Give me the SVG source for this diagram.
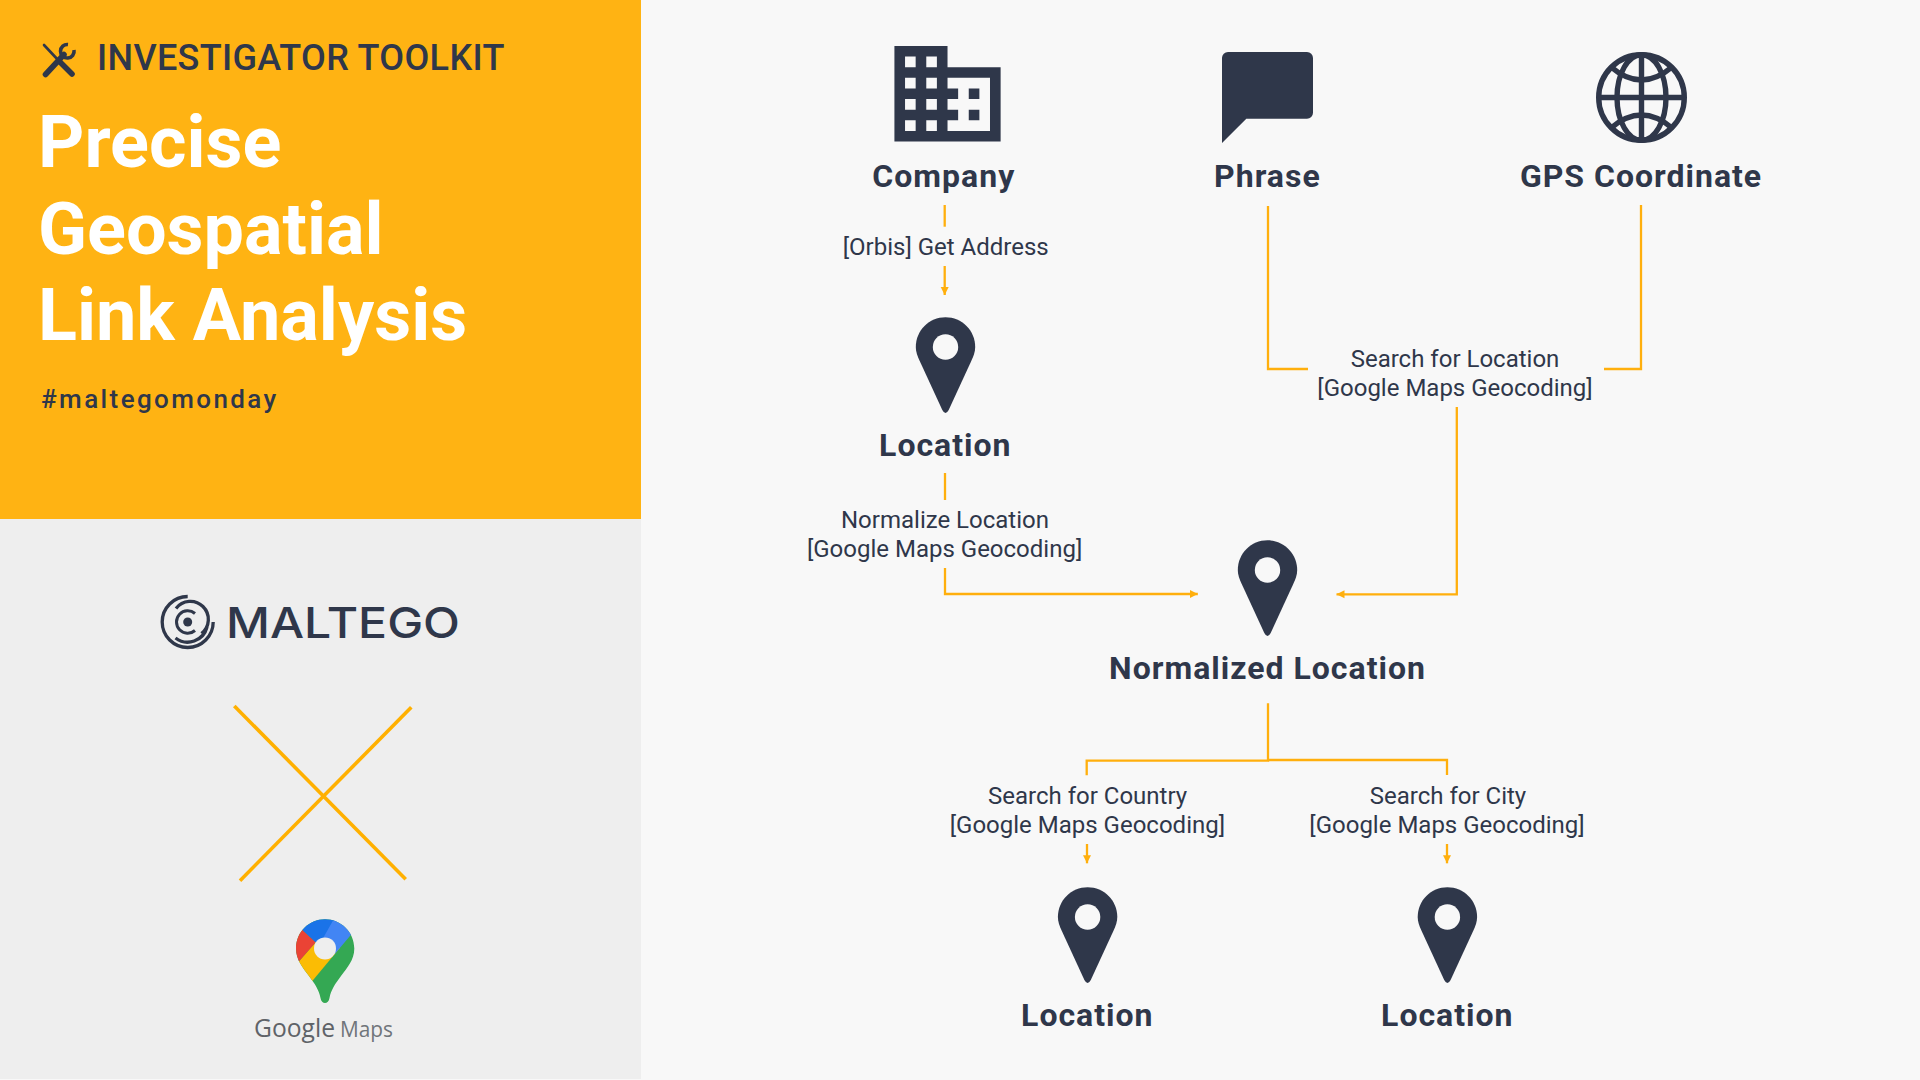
<svg xmlns="http://www.w3.org/2000/svg" width="1920" height="1080" viewBox="0 0 1920 1080">
<style>
text{font-family:Roboto,"Liberation Sans",sans-serif;fill:#2f374a}
.t{font-size:72px;font-weight:700;fill:#fff}
.n{font-size:32px;font-weight:700;letter-spacing:1px;text-anchor:middle}
.l{font-size:24px;text-anchor:middle}
.c{fill:none;stroke:#ffaf0d;stroke-width:2.3}
.d{fill:#2f374a}
.h{fill:#f8f8f8}
</style>
<defs>
<marker id="arrow" markerUnits="userSpaceOnUse" markerWidth="9" markerHeight="9" refX="8" refY="4.5" orient="auto"><path d="M0,.5L8,4.5L0,8.5Z" fill="#ffaf0d"/></marker>
<g id="pin"><path class="d" d="M0,-29.7C16.4,-29.7 29.7,-16.4 29.7,0C29.7,5 28,9 26,13.5L3.2,63Q0,69 -3.2,63L-26,13.5C-28,9 -29.7,5 -29.7,0C-29.7,-16.4 -16.4,-29.7 0,-29.7Z"/><circle class="h" r="12.7"/></g>
<clipPath id="gpin"><path d="M325,919.3C341,919.3 354.3,932 354.3,948.5C354.3,960 347,968 341,976C335,984 331,990 329.5,998C329,1001.5 327,1003 325,1003C323,1003 321,1001.5 320.5,998C319,990 315,984 309,976C303,968 296,960 296,948.5C296,932 309,919.3 325,919.3Z"/></clipPath>
</defs>
<rect width="1920" height="1080" fill="#f8f8f8"/>
<rect id="panel-top" width="641" height="519" fill="#ffb313"/>
<rect id="panel-bottom" y="519" width="641" height="560" fill="#eeeeee"/>
<g id="header">
<g fill="none" stroke="#2f374a" stroke-linecap="round">
<path d="M44,45L59,61" stroke-width="2.6"/>
<path d="M59,61L72,74" stroke-width="5.6"/>
<path d="M45.5,74.5L64,54.5" stroke-width="5.6"/>
<path d="M74,50A6.8,6.8 0 1 1 68,44.5" stroke-width="3.6" stroke-linecap="butt"/>
</g>
<text x="97" y="70" font-size="36" font-weight="500" letter-spacing=".32">INVESTIGATOR TOOLKIT</text>
<text class="t" x="38" y="167">Precise</text>
<text class="t" x="38" y="253.5">Geospatial</text>
<text class="t" x="38" y="339.5">Link Analysis</text>
<text x="41" y="408" font-size="26" font-weight="500" letter-spacing="2.4">#maltegomonday</text>
</g>
<g id="maltego-logo">
<g fill="none" stroke="#2f374a" stroke-width="3.3">
<path d="M187.7,596.5A25.5,25.5 0 1 0 213.2,622"/>
<path d="M176,608.5A18,18 0 1 1 201.5,633.5"/>
<path d="M175.5,638A20,20 0 0 0 207,627"/>
<path d="M195,613.5A11.2,11.2 0 1 0 195,630.5" stroke-width="3"/>
</g>
<circle cx="187.7" cy="622" r="4.5" class="d"/>
<text x="226" y="638" font-size="43" font-weight="500" style="font-family:Inter,'Open Sans',sans-serif" textLength="234" lengthAdjust="spacingAndGlyphs">MALTEGO</text>
</g>
<g id="cross" stroke="#ffb000" stroke-width="3.6" fill="none">
<path d="M234.3,706L405.7,879.3"/>
<path d="M411.3,707.3L240,880.7"/>
</g>
<g id="google-maps-logo">
<g clip-path="url(#gpin)">
<rect x="290" y="915" width="70" height="92" fill="#34a853"/>
<path d="M290,971.5L325,931.6L340,947.8L300,995.7Z" fill="#fbbc04"/>
<path d="M290,971.5L315.7,942.3L303.3,930.7L290,919Z" fill="#ea4335"/>
<path d="M296,924L325,951L325,940L340,915L296,915Z" fill="#1a73e8"/>
<path d="M322,940L334,918.8L334,915L360,915L360,924L335,953.7L325,948.5Z" fill="#4285f4"/>
</g>
<circle cx="325" cy="948.4" r="11" fill="#eeeeee"/>
<text x="254" y="1037" font-size="25" font-weight="500" style="font-family:'Open Sans',sans-serif;fill:#5f6368" textLength="81" lengthAdjust="spacingAndGlyphs">Google</text>
<text x="340" y="1037" font-size="21" style="font-family:'Open Sans',sans-serif;fill:#70757a" textLength="53" lengthAdjust="spacingAndGlyphs">Maps</text>
</g>
<g id="connectors">
<path class="c" d="M944.7,205V226.7"/>
<path class="c" d="M944.7,266V295" marker-end="url(#arrow)"/>
<path class="c" d="M1268,206V369H1308"/>
<path class="c" d="M1641,205V369H1604"/>
<path class="c" d="M1456.8,407V594.3H1336.5" marker-end="url(#arrow)"/>
<path class="c" d="M945,473V500"/>
<path class="c" d="M945,568V594H1197.8" marker-end="url(#arrow)"/>
<path class="c" d="M1268,703.3V760.7H1086.7V775.3"/>
<path class="c" d="M1268,760H1447V775"/>
<path class="c" d="M1087,844V863.3" marker-end="url(#arrow)"/>
<path class="c" d="M1447,844V863.3" marker-end="url(#arrow)"/>
</g>
<g id="node-company">
<path class="d" transform="translate(883.8,30) scale(5.31)" d="M12 7V3H2v18h20V7H12zM6 19H4v-2h2v2zm0-4H4v-2h2v2zm0-4H4V9h2v2zm0-4H4V5h2v2zm4 12H8v-2h2v2zm0-4H8v-2h2v2zm0-4H8V9h2v2zm0-4H8V5h2v2zm10 12h-8v-2h2v-2h-2v-2h2v-2h-2V9h8v10zm-2-8h-2v2h2v-2zm0 4h-2v2h2v-2z"/>
<text class="n" x="943.8" y="187">Company</text>
</g>
<g id="node-phrase">
<path class="d" d="M1222,58a6,6 0 0 1 6,-6H1307a6,6 0 0 1 6,6V112.7a6,6 0 0 1 -6,6H1246.3L1222,143Z"/>
<text class="n" x="1267.4" y="187">Phrase</text>
</g>
<g id="node-gps">
<g fill="none" stroke="#2f374a" stroke-width="5.4">
<circle cx="1641.5" cy="97.5" r="42.8"/>
<ellipse cx="1641.5" cy="97.5" rx="24.5" ry="42.8"/>
<path d="M1641.5,54.7V140.3M1598.7,97.5H1684.3"/>
<path d="M1611,67Q1641.5,93 1672,67M1611,128Q1641.5,102 1672,128"/>
</g>
<text class="n" x="1641" y="187">GPS Coordinate</text>
</g>
<g id="node-location-1">
<use href="#pin" x="945.5" y="347"/>
<text class="n" x="945.3" y="456">Location</text>
</g>
<g id="node-normalized">
<use href="#pin" x="1267.5" y="570"/>
<text class="n" x="1267.5" y="679">Normalized Location</text>
</g>
<g id="node-location-2">
<use href="#pin" x="1087.6" y="917"/>
<text class="n" x="1087.3" y="1026">Location</text>
</g>
<g id="node-location-3">
<use href="#pin" x="1447.4" y="917"/>
<text class="n" x="1447.3" y="1026">Location</text>
</g>
<g id="labels">
<text class="l" x="945.7" y="255">[Orbis] Get Address</text>
<text class="l" x="1455" y="367">Search for Location</text>
<text class="l" x="1455" y="396">[Google Maps Geocoding]</text>
<text class="l" x="945" y="528">Normalize Location</text>
<text class="l" x="944.6" y="557">[Google Maps Geocoding]</text>
<text class="l" x="1087.6" y="804">Search for Country</text>
<text class="l" x="1087.4" y="833">[Google Maps Geocoding]</text>
<text class="l" x="1448" y="804">Search for City</text>
<text class="l" x="1447" y="833">[Google Maps Geocoding]</text>
</g>
</svg>
